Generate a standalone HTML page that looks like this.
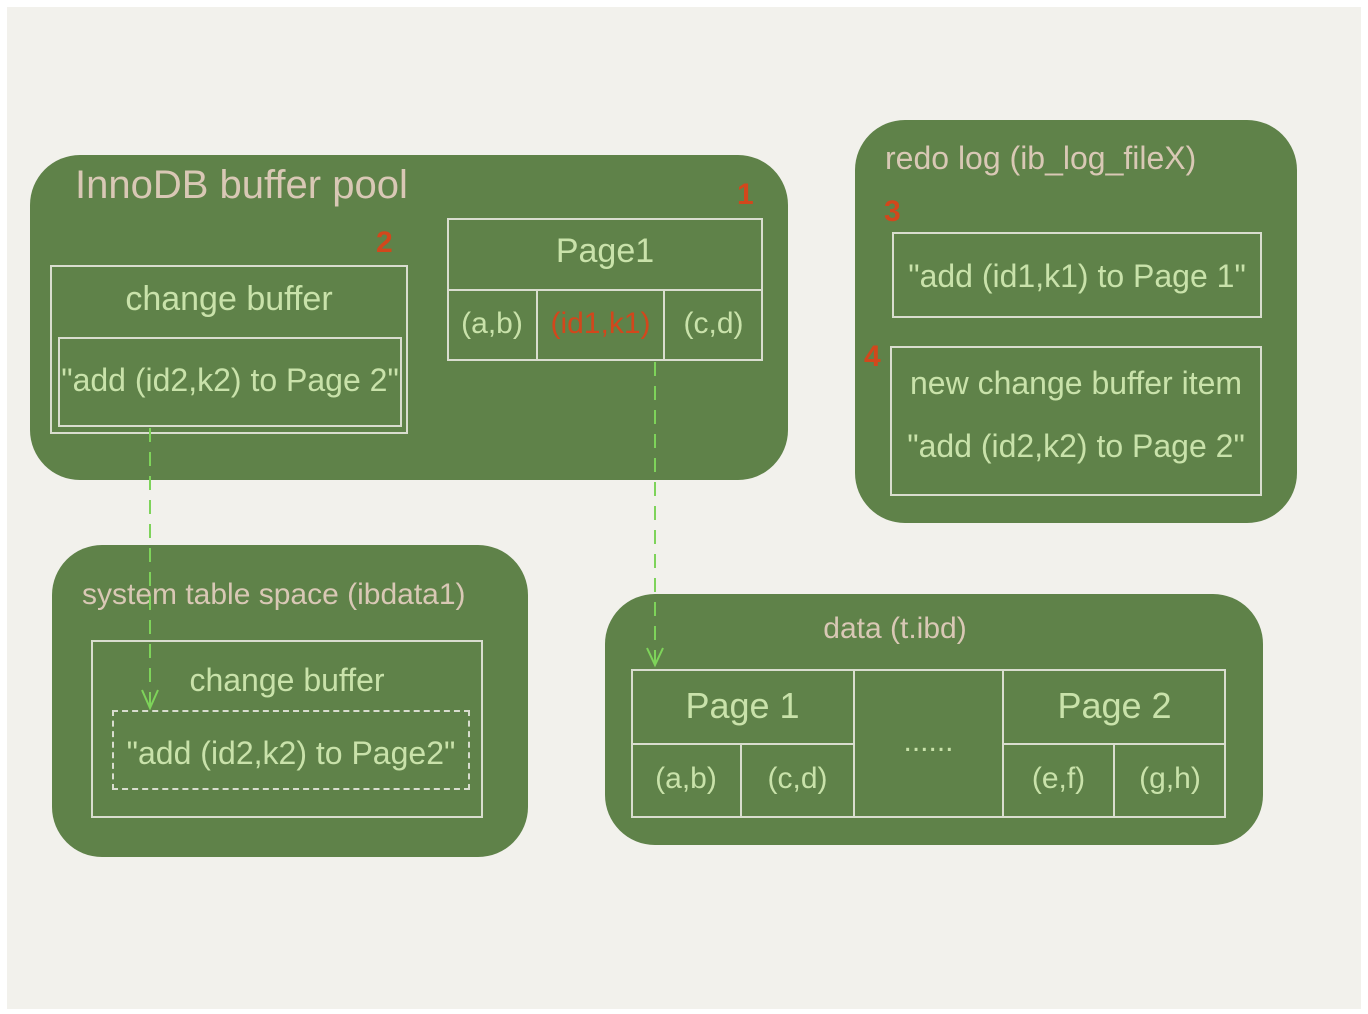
<!DOCTYPE html>
<html><head><meta charset="utf-8"><style>
body{margin:0;width:1368px;height:1014px;background:#fff;position:relative;overflow:hidden;font-family:"Liberation Sans Narrow","Liberation Sans",sans-serif}
.bg{position:absolute;left:7px;top:7px;width:1354px;height:1002px;background:#f2f1ec}
.g{position:absolute;background:#5f8249;border-radius:50px}
.b{position:absolute;border:2px solid #d9ddcf;box-sizing:border-box}
.t{position:absolute;white-space:nowrap;color:#c9e2aa;font-size:30px;text-align:center}
.tan{color:#d9c8b5}
.red{color:#d2471c;font-weight:bold}
</style></head><body>
<div class="bg"></div>
<div class="g" style="left:30px;top:155px;width:758px;height:325px"></div>
<div class="g" style="left:855px;top:120px;width:442px;height:403px"></div>
<div class="g" style="left:52px;top:545px;width:476px;height:312px"></div>
<div class="g" style="left:605px;top:594px;width:658px;height:251px"></div>

<div class="t tan" style="left:75px;top:163px;font-size:40px">InnoDB buffer pool</div>
<div class="t red" style="left:737px;top:178px">1</div>
<div class="t red" style="left:376px;top:226px">2</div>
<div class="b" style="left:50px;top:265px;width:358px;height:169px"></div>
<div class="b" style="left:58px;top:337px;width:344px;height:90px"></div>
<div class="t" style="left:50px;top:280px;width:358px;font-size:34px">change buffer</div>
<div class="t" style="left:58px;top:362px;width:344px;font-size:32px">"add (id2,k2) to Page 2"</div>
<div class="b" style="left:447px;top:218px;width:316px;height:143px"></div>
<div class="b" style="left:447px;top:289px;width:316px;height:2px;border-width:1px"></div>
<div class="b" style="left:536px;top:290px;width:2px;height:71px;border-width:1px"></div>
<div class="b" style="left:663px;top:290px;width:2px;height:71px;border-width:1px"></div>
<div class="t" style="left:447px;top:232px;width:316px;font-size:34px">Page1</div>
<div class="t" style="left:447px;top:307px;width:90px">(a,b)</div>
<div class="t red" style="left:537px;top:307px;width:127px;font-weight:normal">(id1,k1)</div>
<div class="t" style="left:664px;top:307px;width:99px">(c,d)</div>

<div class="t tan" style="left:885px;top:140px;font-size:32px">redo log (ib_log_fileX)</div>
<div class="t red" style="left:884px;top:195px">3</div>
<div class="t red" style="left:864px;top:340px">4</div>
<div class="b" style="left:892px;top:232px;width:370px;height:86px"></div>
<div class="t" style="left:892px;top:258px;width:370px;font-size:32px">"add (id1,k1) to Page 1"</div>
<div class="b" style="left:890px;top:346px;width:372px;height:150px"></div>
<div class="t" style="left:890px;top:365px;width:372px;font-size:32px">new change buffer item</div>
<div class="t" style="left:890px;top:428px;width:372px;font-size:32px">"add (id2,k2) to Page 2"</div>

<div class="t tan" style="left:82px;top:578px;font-size:30px">system table space (ibdata1)</div>
<div class="b" style="left:91px;top:640px;width:392px;height:178px"></div>
<div class="t" style="left:91px;top:662px;width:392px;font-size:32px">change buffer</div>
<div class="b" style="left:112px;top:710px;width:358px;height:80px;border-style:dashed"></div>
<div class="t" style="left:112px;top:735px;width:358px;font-size:32px">"add (id2,k2) to Page2"</div>

<div class="t tan" style="left:605px;top:612px;width:580px;font-size:30px">data (t.ibd)</div>
<div class="b" style="left:631px;top:669px;width:595px;height:149px"></div>
<div class="b" style="left:853px;top:669px;width:2px;height:149px;border-width:1px"></div>
<div class="b" style="left:1002px;top:669px;width:2px;height:149px;border-width:1px"></div>
<div class="b" style="left:631px;top:743px;width:223px;height:2px;border-width:1px"></div>
<div class="b" style="left:1003px;top:743px;width:223px;height:2px;border-width:1px"></div>
<div class="b" style="left:740px;top:744px;width:2px;height:74px;border-width:1px"></div>
<div class="b" style="left:1113px;top:744px;width:2px;height:74px;border-width:1px"></div>
<div class="t" style="left:631px;top:685px;width:223px;font-size:36px">Page 1</div>
<div class="t" style="left:1003px;top:685px;width:223px;font-size:36px">Page 2</div>
<div class="t" style="left:631px;top:762px;width:110px">(a,b)</div>
<div class="t" style="left:741px;top:762px;width:113px">(c,d)</div>
<div class="t" style="left:1003px;top:762px;width:111px">(e,f)</div>
<div class="t" style="left:1114px;top:762px;width:112px">(g,h)</div>
<div class="t" style="left:854px;top:725px;width:149px">......</div>

<svg style="position:absolute;left:0;top:0" width="1368" height="1014">
<g stroke="#7ed35a" stroke-width="2" fill="none">
<line x1="150" y1="428" x2="150" y2="708" stroke-dasharray="14,10"/>
<polyline points="142,690 150,708 158,690"/>
<line x1="655" y1="362" x2="655" y2="665" stroke-dasharray="14,10"/>
<polyline points="647,648 655,665 663,648"/>
</g></svg>
</body></html>
